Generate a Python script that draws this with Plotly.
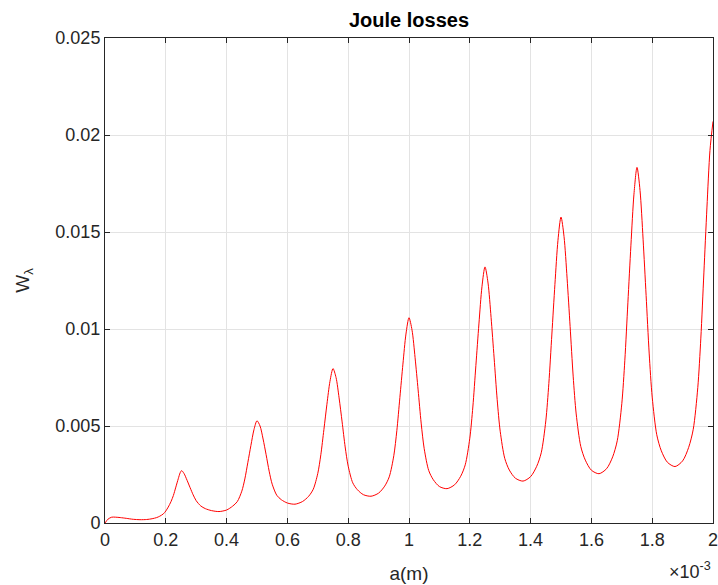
import plotly.graph_objects as go

# x in units of 1e-3 m
a_milli = [
    0, 0.01, 0.022, 0.035, 0.05, 0.07, 0.093, 0.115, 0.137, 0.155, 0.17, 0.18, 0.192, 0.2, 0.208, 0.217, 0.225, 0.233, 0.241, 0.247, 0.252,
    0.26, 0.27, 0.28, 0.29, 0.30, 0.315, 0.33, 0.35, 0.375,
    0.40, 0.42, 0.435, 0.45, 0.46, 0.47, 0.48, 0.49, 0.50, 0.51, 0.52, 0.53, 0.54, 0.55, 0.565, 0.58, 0.60, 0.625,
    0.65, 0.67, 0.685, 0.70, 0.71, 0.72, 0.73, 0.74, 0.75, 0.76, 0.77, 0.78, 0.79, 0.80, 0.815, 0.83, 0.85, 0.875,
    0.90, 0.92, 0.935, 0.95, 0.96, 0.97, 0.98, 0.99, 1.00, 1.01, 1.02, 1.03, 1.04, 1.05, 1.065, 1.08, 1.10, 1.125,
    1.15, 1.17, 1.185, 1.20, 1.21, 1.22, 1.23, 1.24, 1.25, 1.26, 1.27, 1.28, 1.29, 1.30, 1.315, 1.33, 1.35, 1.375,
    1.40, 1.42, 1.435, 1.45, 1.46, 1.47, 1.48, 1.49, 1.50, 1.51, 1.52, 1.53, 1.54, 1.55, 1.565, 1.58, 1.60, 1.625,
    1.65, 1.67, 1.685, 1.70, 1.71, 1.72, 1.73, 1.74, 1.75, 1.76, 1.77, 1.78, 1.79, 1.80, 1.815, 1.83, 1.85, 1.875,
    1.90, 1.92, 1.935, 1.95, 1.96, 1.97, 1.98, 1.99, 2.00,
]

# Joule losses in units of 1e-3
w_milli = [
    0, 0.20, 0.30, 0.30, 0.28, 0.24, 0.19, 0.17, 0.18, 0.22, 0.28, 0.35, 0.47, 0.62, 0.82, 1.10, 1.42, 1.85, 2.28, 2.58, 2.70,
    2.55, 2.20, 1.82, 1.45, 1.15, 0.88, 0.74, 0.64, 0.59,
    0.67, 0.87, 1.10, 1.64, 2.27, 3.13, 4.00, 4.81, 5.27, 5.00, 4.33, 3.52, 2.67, 2.00, 1.43, 1.20, 1.03, 0.97,
    1.11, 1.38, 1.74, 2.56, 3.52, 4.81, 6.12, 7.30, 7.96, 7.50, 6.45, 5.21, 3.92, 2.93, 2.07, 1.72, 1.46, 1.38,
    1.54, 1.90, 2.38, 3.47, 4.76, 6.47, 8.19, 9.74, 10.58, 9.94, 8.52, 6.86, 5.15, 3.83, 2.70, 2.23, 1.88, 1.77,
    1.97, 2.41, 3.00, 4.37, 5.98, 8.12, 10.26, 12.18, 13.20, 12.37, 10.59, 8.51, 6.37, 4.73, 3.33, 2.73, 2.31, 2.16,
    2.39, 2.92, 3.62, 5.26, 7.19, 9.74, 12.30, 14.57, 15.77, 14.76, 12.62, 10.13, 7.57, 5.62, 3.95, 3.24, 2.72, 2.54,
    2.80, 3.41, 4.24, 6.15, 8.39, 11.35, 14.32, 16.95, 18.33, 17.14, 14.63, 11.73, 8.76, 6.49, 4.55, 3.72, 3.13, 2.91,
    3.20, 3.90, 4.83, 6.99, 9.53, 12.89, 16.24, 19.20, 20.70,
]

x_ticks = [0, 0.2, 0.4, 0.6, 0.8, 1.0, 1.2, 1.4, 1.6, 1.8, 2.0]
x_ticktext = ["0", "0.2", "0.4", "0.6", "0.8", "1", "1.2", "1.4", "1.6", "1.8", "2"]
y_ticks = [0, 0.005, 0.01, 0.015, 0.02, 0.025]
y_ticktext = ["0", "0.005", "0.01", "0.015", "0.02", "0.025"]

w = [v * 1e-3 for v in w_milli]

FONT = "Arial, Liberation Sans, sans-serif"
AX = "#262626"
GRID = "#e3e3e3"

fig = go.Figure()
fig.add_trace(go.Scatter(
    x=a_milli, y=w, mode="lines",
    line=dict(color="#ff0000", width=1, shape="spline", smoothing=0.8),
    showlegend=False, hoverinfo="skip",
))

axis_common = dict(
    showline=True, linecolor=AX, linewidth=1, mirror="ticks",
    ticks="inside", ticklen=5, tickcolor=AX, tickwidth=1,
    showgrid=True, gridcolor=GRID, gridwidth=1, zeroline=False,
    tickfont=dict(family=FONT, size=18, color=AX),
    ticklabeloverflow="allow", automargin=False,
)

fig.update_xaxes(
    range=[0, 2], tickmode="array", tickvals=x_ticks, ticktext=x_ticktext,
    title=dict(text="a(m)", font=dict(family=FONT, size=19, color=AX), standoff=18),
    **axis_common,
)
fig.update_yaxes(
    range=[0, 0.025], tickmode="array", tickvals=y_ticks, ticktext=y_ticktext,
    title=dict(text="W<sub>λ</sub>", font=dict(family=FONT, size=19, color=AX), standoff=20),
    **axis_common,
)

fig.update_layout(
    width=718, height=585,
    margin=dict(l=105, r=5, t=38, b=62, autoexpand=False),
    paper_bgcolor="white", plot_bgcolor="white",
    title=dict(text="<b>Joule losses</b>", xref="paper", x=0.5, xanchor="center",
               yref="container", y=0.966, yanchor="middle",
               font=dict(family=FONT, size=20, color="#000000")),
    annotations=[dict(
        text="×10<sup>-3</sup>", xref="paper", yref="paper", x=1.0, y=-0.098,
        xanchor="right", yanchor="middle", showarrow=False,
        font=dict(family=FONT, size=18, color=AX),
    )],
)

fig.write_html(
    "out.html",
    config={"displayModeBar": False},
    post_script="document.body.style.margin='0';document.body.style.overflow='hidden';"
                "document.documentElement.style.overflow='hidden';",
)
